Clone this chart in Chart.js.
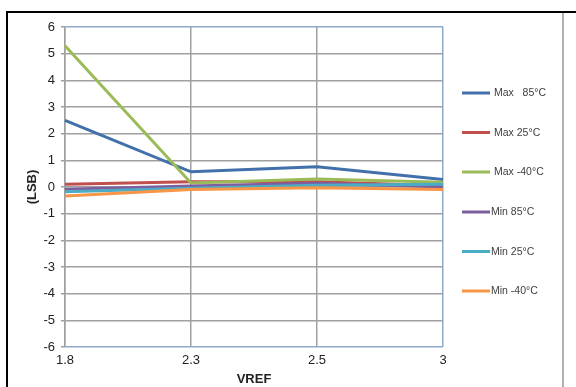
<!DOCTYPE html>
<html>
<head>
<meta charset="utf-8">
<script src="https://cdn.jsdelivr.net/npm/chart.js@4/dist/chart.umd.min.js"></script>
<style>
html,body{margin:0;padding:0;background:#fff;}
canvas{display:block;}
</style>
</head>
<body>
<canvas id="c" width="576" height="387"></canvas>
<script>
const categories = ['1.8', '2.3', '2.5', '3'];
const seriesNames = ['Max   85°C', 'Max 25°C', 'Max -40°C', 'Min 85°C', 'Min 25°C', 'Min -40°C'];
const max85 = [2.5, 0.57, 0.76, 0.28];
const max25 = [0.1, 0.2, 0.2, 0.05];
const maxM40 = [5.3, 0.15, 0.3, 0.18];
const min85 = [-0.08, 0.04, 0.14, 0.0];
const min25 = [-0.18, -0.05, 0.07, 0.1];
const minM40 = [-0.34, -0.09, -0.03, -0.09];
const yTicks = [-6, -5, -4, -3, -2, -1, 0, 1, 2, 3, 4, 5, 6];

const seriesValues = [max85, max25, maxM40, min85, min25, minM40];
const colors = ['#4270AA', '#C0504D', '#9BBB59', '#7D5FA0', '#4BACC6', '#F79646'];
const FONT = '"Liberation Sans", Arial, sans-serif';
const BORDER_BLUE = '#8EAACB';
const GRID = '#A0A0A0';

const frame = {
  id: 'frame',
  beforeDraw(chart) {
    const ctx = chart.ctx;
    ctx.save();
    ctx.fillStyle = '#fff';
    ctx.fillRect(0, 0, chart.width, chart.height);
    ctx.strokeStyle = '#000';
    ctx.lineWidth = 2;
    ctx.beginPath();
    ctx.moveTo(7, 387); ctx.lineTo(7, 12); ctx.lineTo(576, 12);
    ctx.stroke();
    ctx.strokeStyle = '#B0B0B0';
    ctx.lineWidth = 2;
    ctx.beginPath();
    ctx.moveTo(563, 13); ctx.lineTo(563, 387);
    ctx.stroke();
    ctx.restore();
  }
};

const legendPlugin = {
  id: 'customLegend',
  afterDraw(chart) {
    const ctx = chart.ctx;
    ctx.save();
    const ys = [93, 132.5, 172, 212, 251.5, 291];
    chart.data.datasets.forEach((ds, i) => {
      const y = ys[i];
      ctx.strokeStyle = ds.borderColor;
      ctx.lineWidth = 3;
      ctx.beginPath();
      ctx.moveTo(462, y); ctx.lineTo(490, y);
      ctx.stroke();
      ctx.fillStyle = '#404040';
      ctx.font = '10.5px ' + FONT;
      ctx.textBaseline = 'middle';
      ctx.textAlign = 'left';
      ctx.fillText(ds.label, i < 3 ? 494 : 491, y + 0.5);
    });
    ctx.restore();
  }
};

new Chart(document.getElementById('c'), {
  type: 'line',
  data: {
    labels: categories,
    datasets: seriesValues.map((vals, i) => ({
      label: seriesNames[i],
      data: vals,
      borderColor: colors[i],
      backgroundColor: colors[i],
      borderWidth: 3,
      pointRadius: 0,
      tension: 0,
      fill: false,
      order: 6 - i
    }))
  },
  options: {
    responsive: false,
    animation: false,
    events: [],
    layout: { padding: { left: 8, top: 27, right: 133, bottom: 0 } },
    plugins: { legend: { display: false }, tooltip: { enabled: false } },
    scales: {
      x: {
        type: 'category',
        offset: false,
        afterFit(s) { s.height = 40; },
        grid: {
          color: (c) => c.index === 3 ? BORDER_BLUE : GRID,
          lineWidth: 1.5,
          drawTicks: false
        },
        border: { display: false },
        ticks: { color: '#222', font: { family: FONT, size: 13 }, padding: 6, maxRotation: 0 },
        title: { display: true, text: 'VREF', color: '#222', font: { family: FONT, size: 13, weight: 'bold' }, padding: { top: 2, bottom: 0 } }
      },
      y: {
        min: -6,
        max: 6,
        afterFit(s) { s.width = 57; },
        afterBuildTicks(s) { s.ticks = yTicks.map(v => ({ value: v })); },
        grid: {
          color: (c) => (c.tick && (c.tick.value === 6 || c.tick.value === -6)) ? BORDER_BLUE : GRID,
          lineWidth: 1.5,
          tickLength: 4,
          tickColor: GRID
        },
        border: { display: true, color: GRID, width: 1.5 },
        ticks: { color: '#222', font: { family: FONT, size: 13 }, padding: 6 },
        title: { display: true, text: '(LSB)', color: '#222', font: { family: FONT, size: 13, weight: 'bold' }, padding: { top: 17, bottom: 0 } }
      }
    }
  },
  plugins: [frame, legendPlugin]
});
</script>
</body>
</html>
